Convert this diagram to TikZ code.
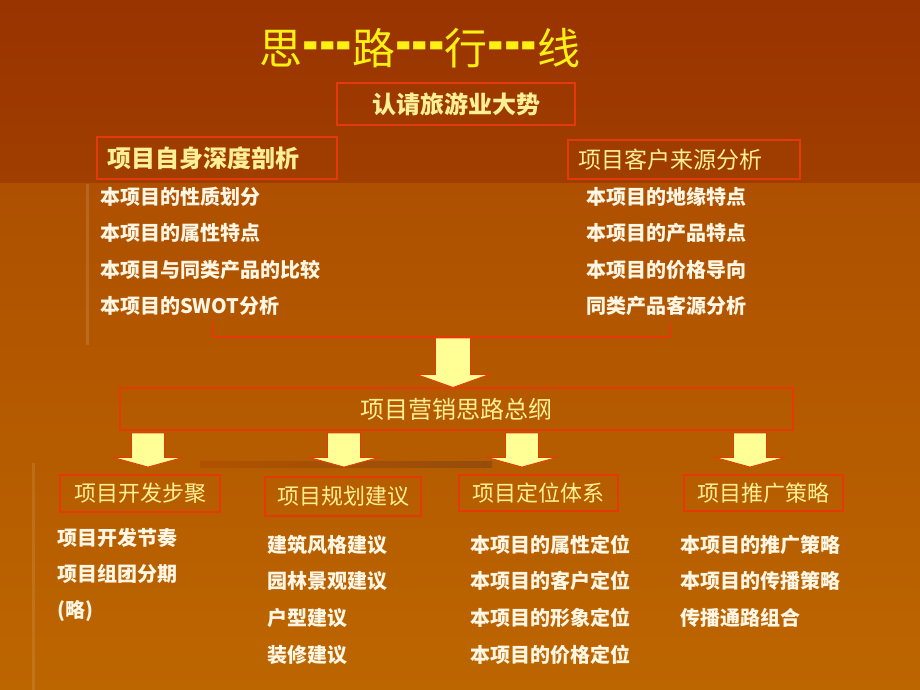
\documentclass[tikz,border=0pt]{standalone}
\usepackage{fontspec}
\setmainfont{Liberation Sans}
\newfontfamily\cjk{Noto Sans CJK SC}
\usepackage{xcolor}
\usepackage{graphicx}
\usepackage{tikz}
\usetikzlibrary{positioning,calc}

\definecolor{topdark}{RGB}{153,51,0}
\definecolor{topband}{RGB}{160,62,0}
\definecolor{lowtop}{RGB}{174,80,0}
\definecolor{lowbot}{RGB}{188,102,0}
\definecolor{boxred}{RGB}{228,58,10}
\definecolor{headyellow}{RGB}{255,240,150}
\definecolor{itemwhite}{RGB}{255,246,228}
\definecolor{titleyellow}{RGB}{255,240,20}
\definecolor{arrowyellow}{RGB}{255,255,150}

% down block arrow: start, end, half shaft, half head, head length
\newcommand{\blockdown}[5]{%
  \path[bigarrow] let \p1=(#1), \p2=(#2) in
    (\x1-#3,\y1) -- (\x1+#3,\y1) -- (\x1+#3,\y2+#5) -- (\x1+#4,\y2+#5)
    -- (\x1,\y2) -- (\x1-#4,\y2+#5) -- (\x1-#3,\y2+#5) -- cycle;}
\newcommand{\onedash}{\scalebox{1}[1.5]{\bfseries -}}
\newcommand{\tridash}{\hbox{\onedash\onedash\onedash}}

\begin{document}
\begin{tikzpicture}
                [x=1pt,y=-1pt,
                box/.style={draw=boxred,line width=1.2pt,text=headyellow,inner sep=0pt,
                  font=\cjk\fontsize{22}{26}\selectfont},
                lbox/.style={box,align=left,inner xsep=10pt},
                item/.style={anchor=west,inner sep=0pt,text=itemwhite,
                  font=\cjk\bfseries\fontsize{20}{24}\selectfont},
                bigarrow/.style={fill=arrowyellow,draw=boxred,line width=0.8pt}
                ]
            \useasboundingbox (0,0) rectangle (920,690);
            % background
            \shade[top color=topdark,bottom color=topband] (0,0) rectangle (920,183);
            \shade[top color=lowtop,bottom color=lowbot] (0,183) rectangle (920,690);
            \draw[white,opacity=0.12,line width=3pt] (87,184) -- (87,345);
            \draw[white,opacity=0.10,line width=3pt] (33,463) -- (33,690);
            \shade[left color=lowtop!90!lowbot,right color=black!20!lowtop!80!brown] (200,461) rectangle (492,467);
            % title
            \node[text=titleyellow,font=\fontsize{43}{48}\selectfont] (title) at (420,48)
              {\cjk 思\tridash 路\tridash 行\tridash 线};
            % top boxes
            \node[box,minimum width=238pt,minimum height=42pt,
              font=\cjk\bfseries\fontsize{24}{28}\selectfont] (trend) at (456,104) {认请旅游业大势};
            \node[lbox,text width=220pt,minimum height=42pt,
              font=\cjk\bfseries\fontsize{24}{28}\selectfont] (self) at (217,158) {项目自身深度剖析};
            \node[lbox,text width=212pt,minimum height=39pt,
              font=\cjk\fontsize{23}{27}\selectfont] (cust) at (684,159.5) {项目客户来源分析};
            % left list
            \node[item] (s1) at (100,197) {本项目的性质划分};
            \node[item] (s2) at (100,233) {本项目的属性特点};
            \node[item] (s3) at (100,270) {本项目与同类产品的比较};
            \node[item] (s4) at (100,306) {本项目的SWOT分析};
            % right list
            \node[item] (c1) at (586,197) {本项目的地缘特点};
            \node[item] (c2) at (586,233) {本项目的产品特点};
            \node[item] (c3) at (586,270) {本项目的价格导向};
            \node[item] (c4) at (586,306) {同类产品客源分析};
            % bracket and big arrow
            \coordinate (bl) at (213,322);
            \coordinate (br) at (670,322);
            \draw[boxred,line width=1.2pt] (bl) -- ++(0,15) -| (br);
            \node[box,minimum width=673pt,minimum height=42pt,
              font=\cjk\fontsize{24}{28}\selectfont] (outline) at (456.5,409) {项目营销思路总纲};
            \coordinate (bm) at (453,338);
            \blockdown{bm}{outline.north -| bm}{17.5pt}{36.5pt}{13pt}
            % bottom boxes
            \node[box,minimum width=160pt,minimum height=37pt] (dev) at (140,493.5) {项目开发步聚};
            \node[box,minimum width=156pt,minimum height=39pt] (plan) at (343,496.5) {项目规划建议};
            \node[box,minimum width=159pt,minimum height=36pt] (pos) at (538.5,493) {项目定位体系};
            \node[box,minimum width=159pt,minimum height=36pt] (promo) at (763.5,493) {项目推广策略};
            % small arrows
            \coordinate (a1) at (148,433);
            \coordinate (a2) at (344,433);
            \coordinate (a3) at (522,433);
            \coordinate (a4) at (750,433);
            \coordinate (e1) at (148,467);
            \coordinate (e2) at (344,467);
            \coordinate (e3) at (522,467);
            \coordinate (e4) at (750,467);
            \blockdown{a1}{e1}{16.5pt}{34.5pt}{9.5pt}
            \blockdown{a2}{e2}{16.5pt}{34.5pt}{9.5pt}
            \blockdown{a3}{e3}{16.5pt}{34.5pt}{9.5pt}
            \blockdown{a4}{e4}{16.5pt}{34.5pt}{9.5pt}
            % bottom lists
            \node[item] (d1) at (57,538) {项目开发节奏};
            \node[item] (d2) at (57,574) {项目组团分期};
            \node[item] (d3) at (57,611) {(略)};
            \node[item] (p1) at (267,545) {建筑风格建议};
            \node[item] (p2) at (267,581) {园林景观建议};
            \node[item] (p3) at (267,618) {户型建议};
            \node[item] (p4) at (267,655) {装修建议};
            \node[item] (o1) at (470,545) {本项目的属性定位};
            \node[item] (o2) at (470,581) {本项目的客户定位};
            \node[item] (o3) at (470,618) {本项目的形象定位};
            \node[item] (o4) at (470,655) {本项目的价格定位};
            \node[item] (m1) at (680,545) {本项目的推广策略};
            \node[item] (m2) at (680,581) {本项目的传播策略};
            \node[item] (m3) at (680,618) {传播通路组合};
            \end{tikzpicture}
\end{document}
